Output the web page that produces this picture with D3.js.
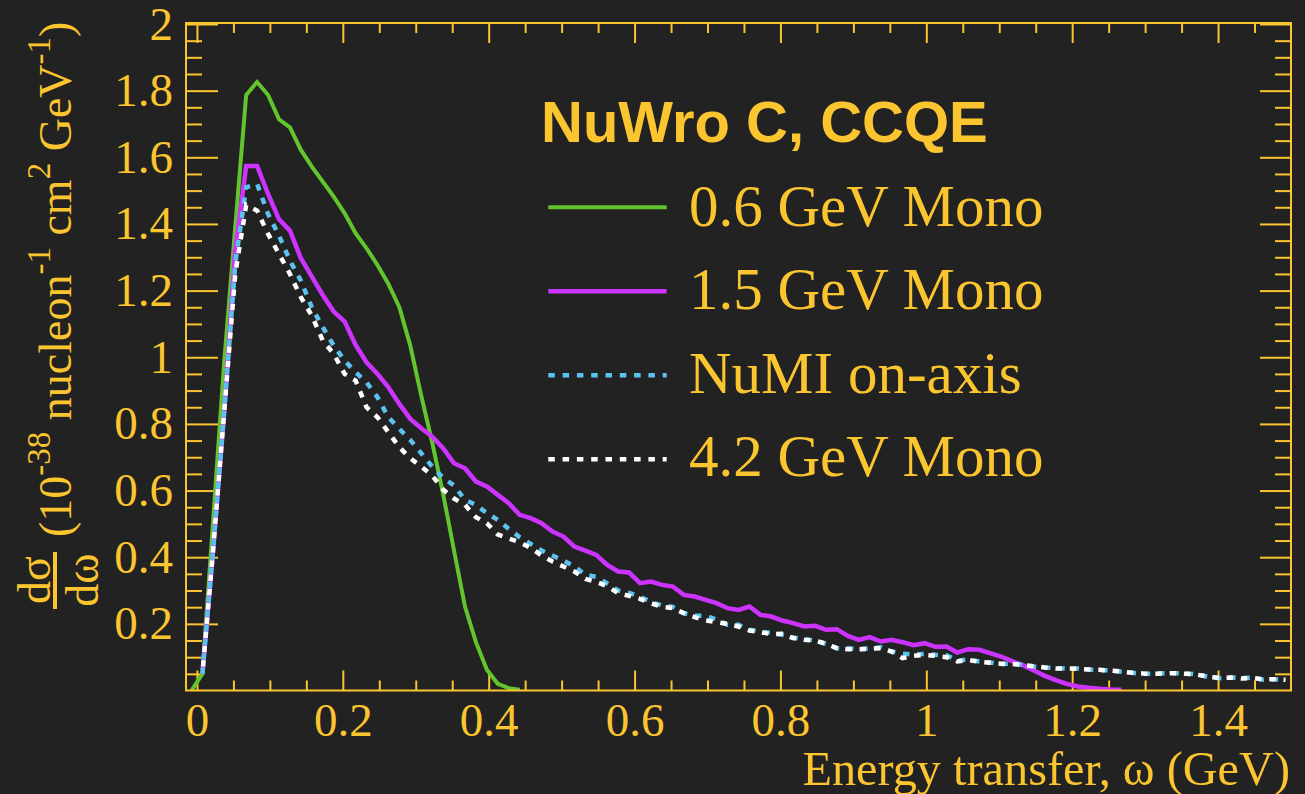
<!DOCTYPE html>
<html>
<head>
<meta charset="utf-8">
<script src="https://cdn.jsdelivr.net/npm/d3@7"></script>
<style>
  html, body { margin: 0; padding: 0; background: #222222; }
  svg { display: block; }
</style>
</head>
<body>
<svg id="chart" width="1305" height="794"></svg>
<script>
// ---- data (bin centres in GeV, cross sections in 1e-38 cm^2/nucleon/GeV) ----
const omega = [-0.0075, 0.0075, 0.0225, 0.0375, 0.0525, 0.0675, 0.0825, 0.0975, 0.1125, 0.1275,
  0.1425, 0.1575, 0.1725, 0.1875, 0.2025, 0.2175, 0.2325, 0.2475, 0.2625, 0.2775,
  0.2925, 0.3075, 0.3225, 0.3375, 0.3525, 0.3675, 0.3825, 0.3975, 0.4125, 0.4275,
  0.4425, 0.4575, 0.4725, 0.4875, 0.5025, 0.5175, 0.5325, 0.5475, 0.5625, 0.5775,
  0.5925, 0.6075, 0.6225, 0.6375, 0.6525, 0.6675, 0.6825, 0.6975, 0.7125, 0.7275,
  0.7425, 0.7575, 0.7725, 0.7875, 0.8025, 0.8175, 0.8325, 0.8475, 0.8625, 0.8775,
  0.8925, 0.9075, 0.9225, 0.9375, 0.9525, 0.9675, 0.9825, 0.9975, 1.0125, 1.0275,
  1.0425, 1.0575, 1.0725, 1.0875, 1.1025, 1.1175, 1.1325, 1.1475, 1.1625, 1.1775,
  1.1925, 1.2075, 1.2225, 1.2375, 1.2525, 1.2675, 1.2825, 1.2975, 1.3125, 1.3275,
  1.3425, 1.3575, 1.3725, 1.3875, 1.4025, 1.4175, 1.4325, 1.4475, 1.4625, 1.4775,
  1.4925];

const mono06 = [0, 0.05, 0.52, 0.99, 1.39, 1.787, 1.826, 1.787, 1.714, 1.69,
  1.622, 1.572, 1.527, 1.482, 1.432, 1.372, 1.327, 1.277, 1.22, 1.15,
  1.035, 0.885, 0.745, 0.59, 0.42, 0.252, 0.145, 0.062, 0.02, 0.007, 0.002];

const mono15 = [null, 0.05, 0.43, 0.84, 1.32, 1.574, 1.574, 1.49, 1.414, 1.38,
  1.297, 1.242, 1.187, 1.137, 1.107, 1.037, 0.985, 0.95, 0.91, 0.86,
  0.815, 0.787, 0.762, 0.727, 0.682, 0.667, 0.627, 0.612, 0.587, 0.562,
  0.527, 0.517, 0.502, 0.477, 0.462, 0.432, 0.42, 0.407, 0.377, 0.357,
  0.354, 0.322, 0.327, 0.317, 0.312, 0.287, 0.282, 0.272, 0.262, 0.247,
  0.242, 0.252, 0.227, 0.222, 0.21, 0.202, 0.192, 0.194, 0.182, 0.184,
  0.164, 0.152, 0.16, 0.147, 0.152, 0.145, 0.136, 0.142, 0.131, 0.132,
  0.114, 0.124, 0.122, 0.112, 0.102, 0.088, 0.076, 0.06, 0.044, 0.031,
  0.02, 0.012, 0.008, 0.005, 0.003, 0.002];

const numi = [null, 0.05, 0.43, 0.84, 1.28, 1.51, 1.52, 1.43, 1.365, 1.29,
  1.23, 1.15, 1.09, 1.035, 0.99, 0.955, 0.925, 0.88, 0.82, 0.785,
  0.752, 0.712, 0.672, 0.638, 0.615, 0.572, 0.557, 0.532, 0.512, 0.485,
  0.46, 0.44, 0.42, 0.405, 0.39, 0.372, 0.347, 0.341, 0.321, 0.30,
  0.293, 0.281, 0.266, 0.255, 0.251, 0.232, 0.224, 0.225, 0.212, 0.197,
  0.197, 0.182, 0.177, 0.173, 0.167, 0.159, 0.154, 0.15, 0.14, 0.127,
  0.127, 0.124, 0.127, 0.13, 0.117, 0.11, 0.108, 0.11, 0.107, 0.106,
  0.09, 0.093, 0.087, 0.084, 0.079, 0.081, 0.077, 0.072, 0.069, 0.067,
  0.066, 0.066, 0.063, 0.061, 0.061, 0.056, 0.053, 0.05, 0.05, 0.052,
  0.052, 0.051, 0.048, 0.04, 0.037, 0.039, 0.037, 0.039, 0.032, 0.034, 0.031];

const mono42 = [null, 0.05, 0.43, 0.84, 1.25, 1.457, 1.44, 1.37, 1.31, 1.25,
  1.18, 1.125, 1.05, 1.01, 0.95, 0.93, 0.85, 0.82, 0.775, 0.73,
  0.697, 0.672, 0.645, 0.603, 0.576, 0.557, 0.52, 0.502, 0.468, 0.456,
  0.445, 0.428, 0.405, 0.387, 0.372, 0.357, 0.335, 0.326, 0.313, 0.292,
  0.284, 0.275, 0.262, 0.251, 0.247, 0.232, 0.22, 0.21, 0.205, 0.2,
  0.192, 0.18, 0.175, 0.169, 0.17, 0.157, 0.152, 0.15, 0.14, 0.127,
  0.124, 0.124, 0.125, 0.127, 0.117, 0.097, 0.104, 0.107, 0.104, 0.10,
  0.087, 0.092, 0.086, 0.083, 0.08, 0.08, 0.076, 0.073, 0.069, 0.066,
  0.066, 0.065, 0.063, 0.062, 0.06, 0.057, 0.053, 0.051, 0.05, 0.051,
  0.052, 0.05, 0.047, 0.041, 0.038, 0.039, 0.036, 0.038, 0.033, 0.034, 0.032];

const seriesNames = ["0.6 GeV Mono", "1.5 GeV Mono", "NuMI on-axis", "4.2 GeV Mono"];
const xTickValues = [0, 0.2, 0.4, 0.6, 0.8, 1, 1.2, 1.4];
const yTickValues = [0.2, 0.4, 0.6, 0.8, 1, 1.2, 1.4, 1.6, 1.8, 2];
const legendTitle = "NuWro C, CCQE";
const xTitle = "Energy transfer, \u03c9 (GeV)";

// ---- styles ----
const GOLD = "#fbc52f";
const BG = "#222222";
const SERIF = "'Liberation Serif', 'Times New Roman', serif";
const SANS = "'Liberation Sans', Arial, sans-serif";
const styles = [
  { color: "#63c52e", width: 4, dash: null, offset: 0 },
  { color: "#cc33ff", width: 4.5, dash: null, offset: 0 },
  { color: "#5bc3f0", width: 4.5, dash: "6.5 7.8", offset: 0 },
  { color: "#ffffff", width: 4.5, dash: "6.5 7.8", offset: 7 }
];

// ---- layout ----
const L = 186, R = 1291, T = 23, B = 690.5;
const svg = d3.select("#chart");
svg.append("rect").attr("width", 1305).attr("height", 794).attr("fill", BG);

const x = d3.scaleLinear().domain([-0.015, 1.5]).range([L, R]);
const y = d3.scaleLinear().domain([0, 2.003]).range([B, T]);

const xMinor = d3.range(0, 1.5, 0.05).filter(v => !xTickValues.some(t => Math.abs(t - v) < 1e-6));
const yMinor = d3.range(0.05, 2.0, 0.05).filter(v => !yTickValues.some(t => Math.abs(t - v) < 1e-6));
const fmt = d => String(+d.toFixed(2));

function styleAxis(g) {
  g.select(".domain").remove();
  g.selectAll(".tick line").attr("stroke", GOLD).attr("stroke-width", 2);
  g.selectAll(".tick text").attr("fill", GOLD).attr("font-family", SERIF).attr("font-size", 47);
}

// bottom
svg.append("g").attr("transform", `translate(0,${B})`)
  .call(d3.axisBottom(x).tickValues(xTickValues).tickSize(-20).tickPadding(12).tickFormat(fmt))
  .call(styleAxis);
svg.append("g").attr("transform", `translate(0,${B})`)
  .call(d3.axisBottom(x).tickValues(xMinor).tickSize(-10).tickFormat(""))
  .call(styleAxis);
// top
svg.append("g").attr("transform", `translate(0,${T})`)
  .call(d3.axisTop(x).tickValues(xTickValues).tickSize(-20).tickFormat(""))
  .call(styleAxis);
svg.append("g").attr("transform", `translate(0,${T})`)
  .call(d3.axisTop(x).tickValues(xMinor).tickSize(-10).tickFormat(""))
  .call(styleAxis);
// left
svg.append("g").attr("transform", `translate(${L},0)`)
  .call(d3.axisLeft(y).tickValues(yTickValues).tickSize(-32).tickPadding(13).tickFormat(fmt))
  .call(styleAxis);
svg.append("g").attr("transform", `translate(${L},0)`)
  .call(d3.axisLeft(y).tickValues(yMinor).tickSize(-16).tickFormat(""))
  .call(styleAxis);
// right
svg.append("g").attr("transform", `translate(${R},0)`)
  .call(d3.axisRight(y).tickValues(yTickValues).tickSize(-31).tickFormat(""))
  .call(styleAxis);
svg.append("g").attr("transform", `translate(${R},0)`)
  .call(d3.axisRight(y).tickValues(yMinor).tickSize(-16).tickFormat(""))
  .call(styleAxis);

// ---- curves ----
const allSeries = [mono06, mono15, numi, mono42];
const line = d3.line()
  .defined(d => d[1] != null)
  .x(d => x(d[0]))
  .y(d => y(d[1]));

svg.append("clipPath").attr("id", "plotclip")
  .append("rect").attr("x", L).attr("y", T).attr("width", R - L).attr("height", B - T);

const plot = svg.append("g").attr("clip-path", "url(#plotclip)");
allSeries.forEach((vals, i) => {
  const pts = vals.map((v, k) => [omega[k], v]);
  const st = styles[i];
  plot.append("path")
    .attr("d", line(pts))
    .attr("fill", "none")
    .attr("stroke", st.color)
    .attr("stroke-width", st.width)
    .attr("stroke-linejoin", "miter")
    .attr("stroke-dasharray", st.dash)
    .attr("stroke-dashoffset", st.offset);
});

// frame
svg.append("rect").attr("x", L).attr("y", T).attr("width", R - L).attr("height", B - T)
  .attr("fill", "none").attr("stroke", GOLD).attr("stroke-width", 2);

// ---- legend ----
svg.append("text").attr("x", 541).attr("y", 141.7)
  .attr("font-family", SANS).attr("font-weight", "bold").attr("font-size", 58)
  .attr("fill", GOLD).text(legendTitle);

const legBase = [225.7, 309.3, 392.7, 476];
const legLineY = [207.3, 291.3, 375.3, 459.3];
seriesNames.forEach((name, i) => {
  const st = styles[i];
  svg.append("line").attr("x1", 548.3).attr("x2", 666.7)
    .attr("y1", legLineY[i]).attr("y2", legLineY[i])
    .attr("stroke", st.color).attr("stroke-width", st.width)
    .attr("stroke-dasharray", st.dash);
  svg.append("text").attr("x", 689).attr("y", legBase[i])
    .attr("font-family", SERIF).attr("font-size", 59).attr("fill", GOLD).text(name);
});

// ---- axis titles ----
svg.append("text").attr("x", 1290).attr("y", 785).attr("text-anchor", "end")
  .attr("font-family", SERIF).attr("font-size", 48.3).attr("fill", GOLD).text(xTitle);

const yt = svg.append("g").attr("transform", "translate(71,610) rotate(-90)")
  .attr("font-family", SERIF).attr("fill", GOLD);
yt.append("text").attr("x", 30).attr("y", -21).attr("text-anchor", "middle")
  .attr("font-size", 46).text("d\u03c3");
yt.append("line").attr("x1", 1).attr("x2", 58).attr("y1", -16).attr("y2", -16)
  .attr("stroke", GOLD).attr("stroke-width", 4);
yt.append("text").attr("x", 30).attr("y", 27).attr("text-anchor", "middle")
  .attr("font-size", 46).text("d\u03c9");
const mt = yt.append("text").attr("x", 73).attr("y", 0).attr("font-size", 46);
const parts = [
  ["(10", false], ["-38", true], [" nucleon", false], ["-1", true],
  [" cm", false], ["2", true], [" GeV", false], ["-1", true], [")", false]
];
let raised = false;
parts.forEach(([t, sup]) => {
  const ts = mt.append("tspan").text(t);
  if (sup) { ts.attr("font-size", 33).attr("dy", raised ? 0 : -21); raised = true; }
  else { ts.attr("dy", raised ? 21 : 0); raised = false; }
});
</script>
</body>
</html>
